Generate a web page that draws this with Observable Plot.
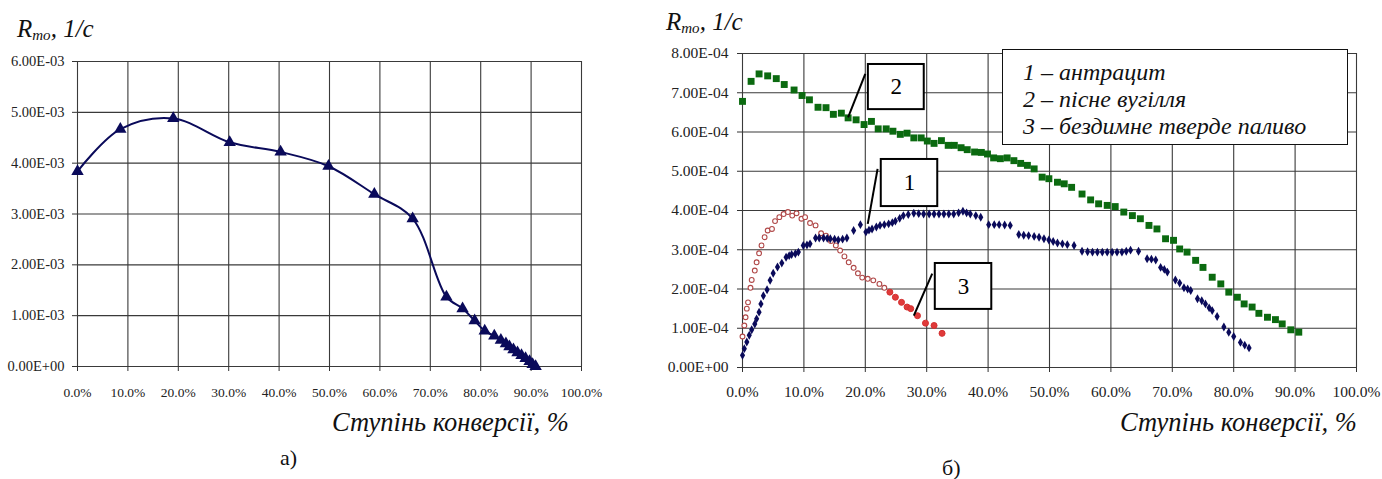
<!DOCTYPE html>
<html>
<head>
<meta charset="utf-8">
<script src="https://cdn.jsdelivr.net/npm/d3@7"></script>
<script src="https://cdn.jsdelivr.net/npm/@observablehq/plot@0.6"></script>
<style>
  body { margin: 0; background: #fff; }
  #wrap { position: relative; width: 1382px; height: 479px; overflow: hidden; background: #fff; font-family: "Liberation Serif", "Times New Roman", serif; color: #111; }
  .abs { position: absolute; white-space: nowrap; }
  .ylab { font-style: italic; font-size: 25px; line-height: 1; }
  .ylab sub { font-size: 15px; vertical-align: -3px; }
  .xlab { font-style: italic; font-size: 26.5px; line-height: 1; }
  .cap { font-size: 22px; line-height: 1; }
  #legend { position: absolute; left: 1002px; top: 49px; width: 344px; height: 94px; border: 1.5px solid #111; background: #fff; overflow: hidden; font-style: italic; font-size: 24px; line-height: 27px; padding: 0; }
  #legend div { position: absolute; left: 20px; }
  #left svg text { font-family: "Liberation Serif", "Times New Roman", serif !important; font-size: 13.5px !important; fill: #222; }
  #left svg text.ytick { font-size: 14.5px !important; }
  #right svg text { font-family: "Liberation Serif", "Times New Roman", serif !important; font-size: 15.5px !important; fill: #222; }
  #right svg text.ytick { font-size: 15.5px !important; }
  #right svg text.callout { font-size: 23px !important; fill: #000; }
</style>
</head>
<body>
<div id="wrap">
  <div id="left" class="abs" style="left:0;top:0"></div>
  <div id="right" class="abs" style="left:620px;top:0"></div>
  <div class="abs ylab" style="left:17px;top:16px"><i>R<sub>mo</sub>, 1/c</i></div>
  <div class="abs ylab" style="left:666px;top:9px"><i>R<sub>mo</sub>, 1/c</i></div>
  <div class="abs xlab" style="left:332px;top:409px">Ступінь конверсії, %</div>
  <div class="abs xlab" style="left:1120px;top:409px">Ступінь конверсії, %</div>
  <div class="abs cap" style="left:280px;top:447px">а)</div>
  <div class="abs cap" style="left:942px;top:457px">б)</div>
  <div id="legend"></div>
</div>
<script>
// ---------- data ----------
const leftXTicks = [0, 10, 20, 30, 40, 50, 60, 70, 80, 90, 100];
const leftYTicks = [0, 0.001, 0.002, 0.003, 0.004, 0.005, 0.006];
const leftX = [0, 8.5, 19.0, 30.2, 40.3, 49.8, 58.9, 66.5, 73.2, 76.4, 78.8, 80.8, 82.7, 84.0, 85.0, 85.7, 86.5, 87.3, 88.1, 88.9, 89.7, 90.3, 90.9];
const leftY = [0.00384, 0.00467, 0.00488, 0.00441, 0.00422, 0.00394, 0.00339, 0.00291, 0.00137, 0.00114, 0.00090, 0.00070, 0.00060, 0.00052, 0.00045, 0.00039, 0.00033, 0.00027, 0.00022, 0.00016, 0.00010, 0.00004, 0.0];

const rightXTicks = [0, 10, 20, 30, 40, 50, 60, 70, 80, 90, 100];
const rightYTicks = [0, 0.0001, 0.0002, 0.0003, 0.0004, 0.0005, 0.0006, 0.0007, 0.0008];

// 1 – антрацит (values in 1e-4)
const s1X = [0, 0.3, 0.7, 1.1, 1.5, 2.0, 2.3, 2.7, 3.0, 3.4, 4.0, 4.5, 5.0, 5.7, 6.4, 7.1, 7.6, 8.0, 8.6, 9.1, 9.9, 10.5, 11.0, 11.9, 12.5, 13.2, 13.8, 14.3, 15.0, 15.6, 16.3, 17.0, 18.1, 19.2, 20.1, 20.6, 21.1, 21.8, 22.4, 23.1, 23.8, 24.4, 24.9, 25.6, 26.2, 27.0, 27.9, 28.7, 29.5, 30.4, 31.2, 32.0, 32.8, 33.6, 34.4, 35.2, 35.9, 36.5, 37.1, 38.0, 38.8, 40.1, 41.0, 41.8, 42.7, 43.6, 45.0, 45.8, 46.6, 47.5, 48.3, 49.1, 49.9, 50.6, 51.3, 52.1, 52.9, 54.0, 55.3, 56.2, 57.0, 57.8, 58.6, 59.4, 60.2, 61.0, 61.8, 62.5, 63.2, 64.5, 65.9, 66.6, 67.3, 68.1, 68.7, 69.2, 70.5, 71.2, 71.9, 72.5, 73.0, 74.1, 74.8, 75.4, 76.0, 76.5, 77.3, 78.4, 79.2, 80.0, 81.1, 81.8, 82.5];
const s1Y = [0.31, 0.48, 0.65, 0.82, 0.96, 1.11, 1.24, 1.41, 1.62, 1.83, 1.98, 2.22, 2.40, 2.56, 2.66, 2.81, 2.85, 2.88, 2.90, 2.94, 3.11, 3.12, 3.15, 3.30, 3.30, 3.30, 3.29, 3.28, 3.27, 3.25, 3.27, 3.30, 3.49, 3.64, 3.45, 3.50, 3.53, 3.58, 3.62, 3.64, 3.66, 3.69, 3.73, 3.80, 3.87, 3.90, 3.93, 3.92, 3.91, 3.91, 3.91, 3.91, 3.91, 3.91, 3.91, 3.94, 3.98, 3.94, 3.91, 3.87, 3.83, 3.64, 3.64, 3.64, 3.63, 3.62, 3.39, 3.37, 3.36, 3.34, 3.32, 3.28, 3.25, 3.21, 3.17, 3.15, 3.13, 3.11, 2.96, 2.95, 2.94, 2.94, 2.94, 2.94, 2.94, 2.94, 2.94, 2.96, 2.99, 2.96, 2.77, 2.76, 2.74, 2.55, 2.50, 2.43, 2.23, 2.15, 2.03, 2.00, 1.96, 1.75, 1.70, 1.62, 1.52, 1.45, 1.30, 1.03, 0.90, 0.79, 0.64, 0.57, 0.50];

// 2 – пісне вугілля (values in 1e-4)
const s2X = [0, 1.4, 2.7, 4.1, 5.5, 6.8, 8.4, 9.7, 10.9, 12.3, 13.6, 14.8, 16.1, 17.2, 18.5, 19.8, 21.0, 22.1, 23.4, 24.5, 25.7, 26.8, 27.9, 29.1, 30.1, 31.2, 32.4, 33.5, 34.5, 35.6, 36.6, 37.8, 38.9, 39.9, 40.9, 42.0, 43.1, 44.2, 45.3, 46.4, 47.5, 48.8, 49.9, 51.3, 52.4, 53.6, 55.3, 56.7, 58.0, 59.4, 60.7, 62.1, 63.5, 64.8, 66.2, 67.5, 68.9, 70.2, 71.2, 72.4, 73.8, 75.0, 76.5, 77.9, 79.2, 80.6, 81.7, 83.0, 84.1, 85.5, 86.8, 87.9, 89.3, 90.6];
const s2Y = [6.78, 7.29, 7.48, 7.43, 7.36, 7.21, 7.07, 6.93, 6.82, 6.63, 6.62, 6.45, 6.48, 6.36, 6.31, 6.19, 6.27, 6.08, 6.08, 6.02, 5.94, 5.97, 5.85, 5.85, 5.77, 5.71, 5.78, 5.66, 5.66, 5.60, 5.55, 5.49, 5.48, 5.44, 5.34, 5.32, 5.34, 5.27, 5.20, 5.15, 5.06, 4.85, 4.81, 4.72, 4.68, 4.59, 4.42, 4.27, 4.17, 4.13, 4.10, 3.96, 3.87, 3.79, 3.62, 3.53, 3.28, 3.24, 3.02, 2.94, 2.73, 2.55, 2.30, 2.13, 1.92, 1.79, 1.62, 1.54, 1.38, 1.28, 1.22, 1.11, 0.96, 0.90];

// 3 – бездимне тверде паливо (values in 1e-4)
const s3X = [0, 0.3, 0.5, 0.7, 0.9, 1.3, 1.5, 2.0, 2.3, 2.7, 3.1, 3.6, 4.1, 4.8, 5.3, 6.0, 6.7, 7.4, 8.1, 8.8, 9.6, 10.2, 11.0, 11.9, 12.8, 13.6, 14.4, 15.2, 15.9, 16.6, 17.3, 18.1, 18.8, 19.5, 20.4, 21.3, 22.3, 23.1, 24.0, 24.9, 25.9, 26.8, 27.4, 28.5, 29.8, 31.2, 32.5];
const s3Y = [0.79, 1.07, 1.28, 1.50, 1.66, 2.03, 2.23, 2.47, 2.68, 2.91, 3.11, 3.32, 3.49, 3.53, 3.73, 3.83, 3.91, 3.96, 3.87, 3.93, 3.79, 3.83, 3.68, 3.62, 3.42, 3.36, 3.22, 3.11, 2.98, 2.83, 2.68, 2.54, 2.40, 2.29, 2.26, 2.22, 2.13, 2.03, 1.92, 1.79, 1.66, 1.54, 1.50, 1.32, 1.13, 1.07, 0.87];

const legendLabels = ["1 – антрацит", "2 – пісне вугілля", "3 – бездимне тверде паливо"];
const calloutLabels = ["2", "1", "3"];

// ---------- helpers ----------
const fmtE = v => {
  if (v === 0) return "0.00E+00";
  const e = Math.floor(Math.log10(Math.abs(v)) + 1e-9);
  const m = v / Math.pow(10, e);
  return m.toFixed(2) + "E" + (e < 0 ? "-" : "+") + String(Math.abs(e)).padStart(2, "0");
};
const fmtPct = v => v.toFixed(1) + "%";

const leftData = leftX.map((x, i) => ({x, y: leftY[i]}));
const toRows = (xs, ys) => xs.map((x, i) => ({x, y: ys[i] * 1e-4}));
const d1 = toRows(s1X, s1Y), d2 = toRows(s2X, s2Y), d3 = toRows(s3X, s3Y);

// callout annotation placement (data coordinates)
const callouts = [
  {label: calloutLabels[0], bx1: 20.5, bx2: 29.6, by1: 6.57e-4, by2: 7.72e-4, lx1: 20.0, ly1: 7.48e-4, lx2: 17.2, ly2: 6.37e-4},
  {label: calloutLabels[1], bx1: 22.6, bx2: 31.8, by1: 4.10e-4, by2: 5.30e-4, lx1: 22.0, ly1: 5.06e-4, lx2: 20.4, ly2: 3.66e-4},
  {label: calloutLabels[2], bx1: 31.4, bx2: 40.6, by1: 1.48e-4, by2: 2.65e-4, lx1: 30.9, ly1: 2.39e-4, lx2: 27.9, ly2: 1.32e-4}
];

const gridStyle = {stroke: "#3a3a3a", strokeOpacity: 1, strokeWidth: 1.1};
const navy = "#0a0a5a";
const serif = "'Liberation Serif', 'Times New Roman', serif";

// ---------- left chart (а) ----------
const left = Plot.plot({
  width: 620, height: 410,
  marginLeft: 77, marginRight: 39, marginTop: 61, marginBottom: 44,
  x: {domain: [0, 100]},
  y: {domain: [0, 0.006]},
  style: {fontFamily: serif, fontSize: "13.5px", color: "#222", background: "transparent", overflow: "visible"},
  marks: [
    Plot.gridX(leftXTicks, gridStyle),
    Plot.gridY(leftYTicks, gridStyle),
    Plot.axisX(leftXTicks, {tickSize: 5, tickPadding: 16, tickFormat: fmtPct, label: null, stroke: "#333"}),
    Plot.axisY(leftYTicks, {tickSize: 5, tickPadding: 8, tickFormat: fmtE, label: null, stroke: "#333"}),
    Plot.line(leftData, {x: "x", y: "y", curve: "catmull-rom", stroke: navy, strokeWidth: 2}),
    Plot.dot(leftData, {x: "x", y: "y", symbol: "triangle", fill: navy, r: 4.6})
  ]
});
document.getElementById("left").appendChild(left);

// ---------- right chart (б) ----------
const right = Plot.plot({
  width: 762, height: 410,
  marginLeft: 122, marginRight: 26, marginTop: 53, marginBottom: 43,
  x: {domain: [0, 100]},
  y: {domain: [0, 0.0008]},
  style: {fontFamily: serif, fontSize: "15px", color: "#222", background: "transparent", overflow: "visible"},
  marks: [
    Plot.gridX(rightXTicks, gridStyle),
    Plot.gridY(rightYTicks, gridStyle),
    Plot.axisX(rightXTicks, {tickSize: 5, tickPadding: 13, tickFormat: fmtPct, label: null, stroke: "#333"}),
    Plot.axisY(rightYTicks, {tickSize: 5, tickPadding: 9, tickFormat: fmtE, label: null, stroke: "#333"}),
    Plot.dot(d3.filter(d => d.x < 24), {x: "x", y: "y", symbol: "circle", r: 2.4, stroke: "#b04848", strokeWidth: 1.1, fill: "white"}),
    Plot.dot(d3.filter(d => d.x >= 24), {x: "x", y: "y", symbol: "circle", r: 3, stroke: "#d43030", strokeWidth: 1, fill: "#e03a3a"}),
    Plot.dot(d1, {x: "x", y: "y", symbol: "diamond", r: 2.7, fill: navy}),
    Plot.dot(d2, {x: "x", y: "y", symbol: "square", r: 3.9, fill: "#0b6a10"}),
    Plot.link(callouts, {x1: "lx1", y1: "ly1", x2: "lx2", y2: "ly2", stroke: "#000", strokeWidth: 2}),
    Plot.rect(callouts, {x1: "bx1", x2: "bx2", y1: "by1", y2: "by2", fill: "white", stroke: "#000", strokeWidth: 2}),
    Plot.text(callouts, {x: d => (d.bx1 + d.bx2) / 2, y: d => (d.by1 + d.by2) / 2, text: "label", fill: "#000"})
  ]
});
document.getElementById("right").appendChild(right);

// tag text elements for sizing
[left, right].forEach(svg => svg.querySelectorAll("text").forEach(t => {
  const s = t.textContent.trim();
  if (calloutLabels.includes(s)) t.classList.add("callout");
  else if (s.includes("E")) t.classList.add("ytick");
}));

// legend box
const lg = document.getElementById("legend");
legendLabels.forEach((t, i) => {
  const div = document.createElement("div");
  div.textContent = t;
  div.style.top = (9 + i * 27) + "px";
  lg.appendChild(div);
});
</script>
</body>
</html>
